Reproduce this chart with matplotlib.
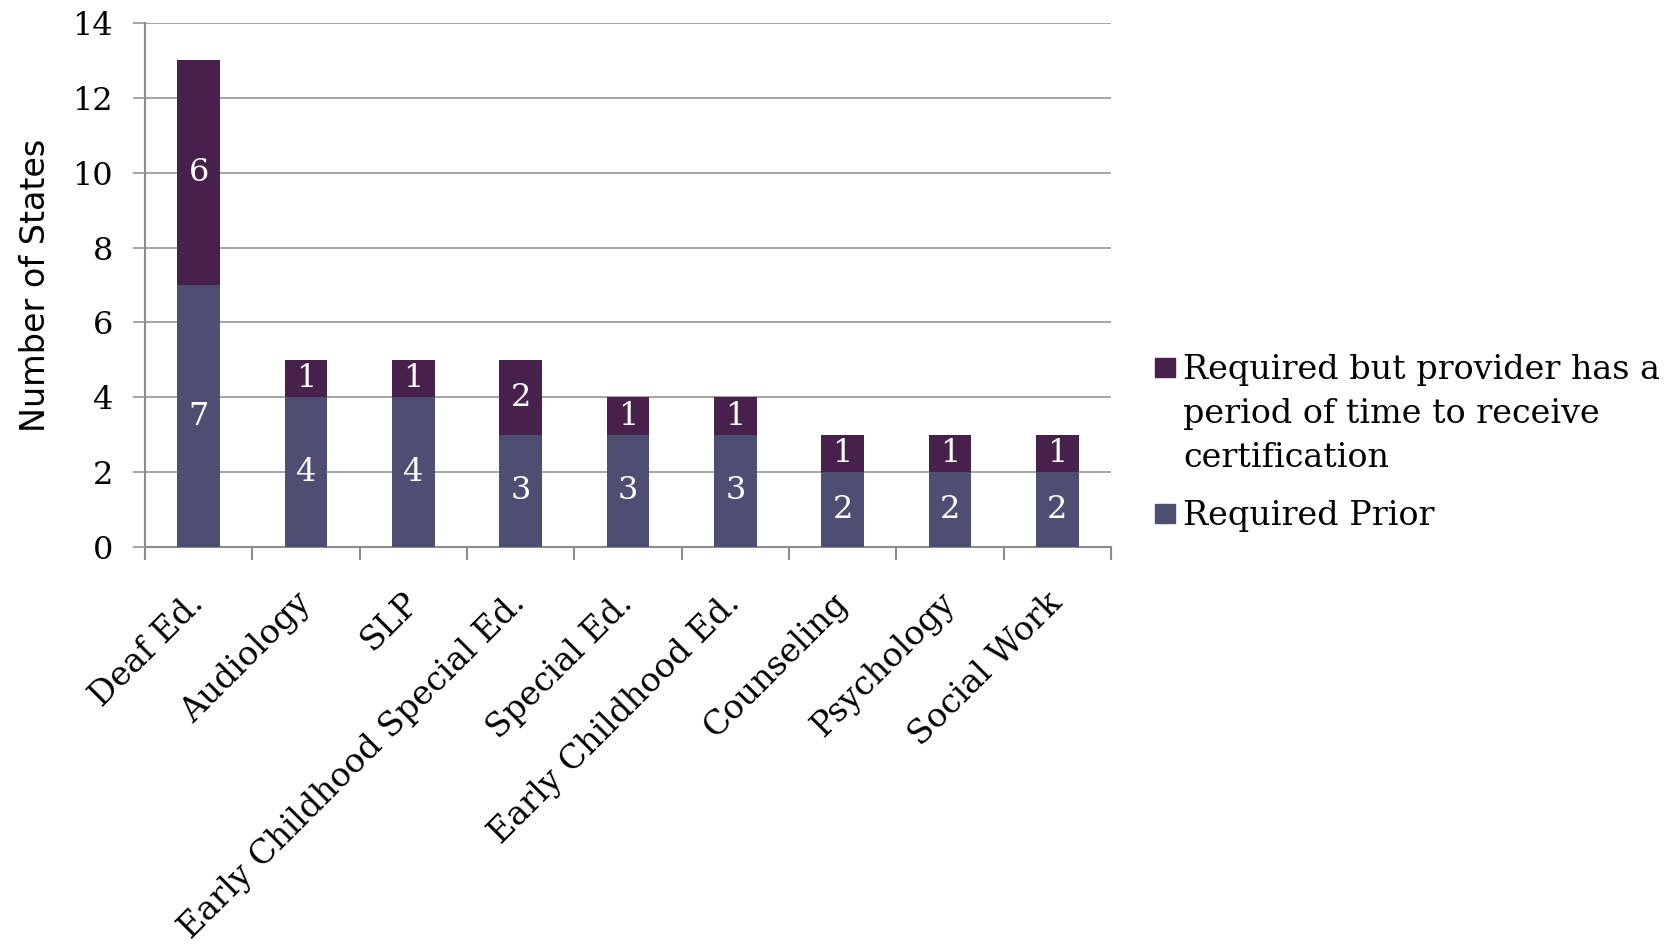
import matplotlib
matplotlib.use("Agg")
import matplotlib.pyplot as plt
from matplotlib.patches import Rectangle
import numpy as np

categories = ["Deaf Ed.", "Audiology", "SLP", "Early Childhood Special Ed.",
              "Special Ed.", "Early Childhood Ed.", "Counseling", "Psychology",
              "Social Work"]
required_prior = [7, 4, 4, 3, 3, 3, 2, 2, 2]
required_later = [6, 1, 1, 2, 1, 1, 1, 1, 1]
legend_labels = ["Required but provider has a\nperiod of time to receive\ncertification",
                 "Required Prior"]

c_prior = "#4E4D72"
c_later = "#48204C"
grid_c = "#8C8C8C"
serif = "DejaVu Serif"

W, H = 1674, 947
fig = plt.figure(figsize=(W / 100, H / 100), dpi=100)
ax = fig.add_axes([145 / W, 1 - 547 / H, (1111 - 145) / W, (547 - 23) / H])

x = np.arange(len(categories))
bw = 0.40
ax.bar(x, required_prior, bw, color=c_prior, zorder=3)
ax.bar(x, required_later, bw, bottom=required_prior, color=c_later, zorder=3)

for xi, p, l in zip(x, required_prior, required_later):
    ax.text(xi, p / 2, str(p), ha="center", va="center", color="white",
            fontsize=23, family=serif, zorder=4)
    ax.text(xi, p + l / 2, str(l), ha="center", va="center", color="white",
            fontsize=23, family=serif, zorder=4)

ax.set_xlim(-0.5, len(categories) - 0.5)
ax.set_ylim(0, 14)
ax.set_yticks(np.arange(0, 15, 2))
ax.yaxis.grid(True, color=grid_c, linewidth=1.1, zorder=0)
ax.tick_params(axis="y", length=9, width=1.1, color=grid_c, labelsize=23, pad=14)
for t in ax.get_yticklabels():
    t.set_family(serif)

ax.set_xticks(x)
ax.set_xticklabels(categories, rotation=45, ha="right", va="center",
                   rotation_mode="anchor", family=serif, fontsize=24)
ax.tick_params(axis="x", which="major", length=0, pad=37)
ax.set_xticks(np.arange(-0.5, len(categories), 1), minor=True)
ax.tick_params(axis="x", which="minor", length=9, width=1.5, color=grid_c)

for s in ["top", "right"]:
    ax.spines[s].set_visible(False)
for s in ["left", "bottom"]:
    ax.spines[s].set_color(grid_c)
    ax.spines[s].set_linewidth(1.5)

ax.set_ylabel("Number of States", fontsize=24, family="DejaVu Sans", va="center")
ax.yaxis.set_label_coords((36 - 145) / (1111 - 145), 0.5)

# legend drawn manually so swatches align with the first line of each entry
legend_colors = [c_later, c_prior]
legend_first_baseline = [379, 525]
line_step = 44
for lab, col, yb in zip(legend_labels, legend_colors, legend_first_baseline):
    fig.patches.append(Rectangle((1155 / W, 1 - (yb - 2) / H), 20 / W, 19 / H,
                                 transform=fig.transFigure, color=col))
    for i, line in enumerate(lab.split("\n")):
        fig.text(1183 / W, 1 - (yb + i * line_step) / H, line, ha="left",
                 va="baseline", fontsize=24, family=serif)

fig.savefig("out.png", dpi=100)
